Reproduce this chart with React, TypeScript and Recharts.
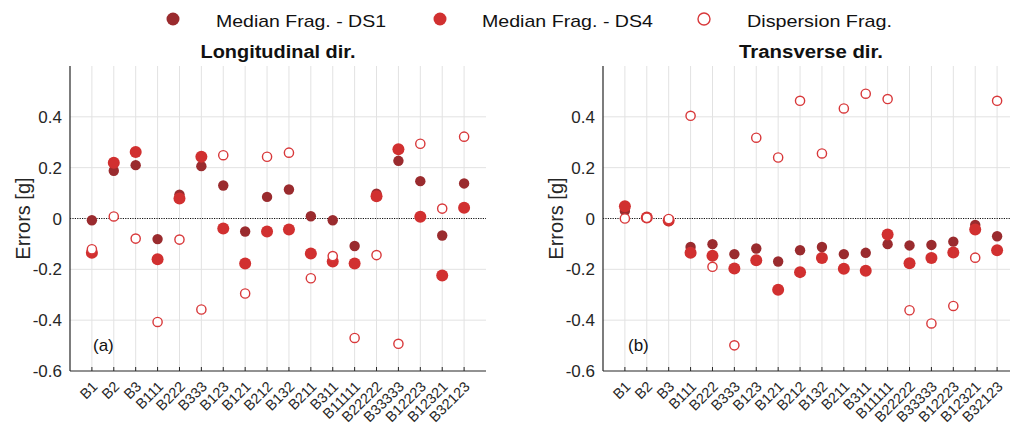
import React from 'react';
import { ScatterChart, Scatter, XAxis, YAxis, CartesianGrid, ReferenceLine } from 'recharts';

const categories = ['B1','B2','B3','B111','B222','B333','B123','B121','B212','B132','B211','B311','B11111','B22222','B33333','B12223','B12321','B32123'];

const longDS1 = [-0.007, 0.188, 0.21, -0.081, 0.094, 0.206, 0.13, -0.051, 0.085, 0.114, 0.009, -0.007, -0.108, 0.098, 0.227, 0.147, -0.067, 0.138];
const longDS4 = [-0.135, 0.219, 0.262, -0.16, 0.079, 0.243, -0.039, -0.177, -0.051, -0.043, -0.138, -0.169, -0.177, 0.088, 0.272, 0.007, -0.224, 0.042];
const longDisp = [-0.121, 0.008, -0.079, -0.407, -0.083, -0.358, 0.249, -0.295, 0.243, 0.259, -0.235, -0.148, -0.47, -0.144, -0.493, 0.294, 0.039, 0.322];

const transDS1 = [0.03, 0.005, -0.01, -0.112, -0.101, -0.14, -0.118, -0.169, -0.125, -0.112, -0.14, -0.135, -0.101, -0.106, -0.104, -0.091, -0.025, -0.07];
const transDS4 = [0.048, 0.004, -0.008, -0.135, -0.147, -0.197, -0.164, -0.28, -0.211, -0.155, -0.198, -0.206, -0.063, -0.176, -0.155, -0.134, -0.043, -0.125];
const transDisp = [0.0, 0.003, -0.002, 0.404, -0.19, -0.499, 0.318, 0.24, 0.463, 0.256, 0.433, 0.491, 0.47, -0.361, -0.413, -0.344, -0.154, 0.463];

const yTicks = [-0.6, -0.4, -0.2, 0, 0.2, 0.4];
const gridY = [-0.4, -0.2, 0.2, 0.4];

const C_DS1 = '#9a2b2e';
const C_DS4 = '#d13030';
const C_DISP = '#d8383a';
const AXIS = '#262626';
const FONT = '"Liberation Sans", Arial, Helvetica, sans-serif';

const xTicks = categories.map((_, i) => i + 1);
const toPts = (arr: number[]) => arr.map((v, i) => ({ x: i + 1, y: v }));

const Dot1 = (p: any) => <circle cx={p.cx} cy={p.cy} r={5.2} fill={C_DS1} />;
const Dot4 = (p: any) => <circle cx={p.cx} cy={p.cy} r={6} fill={C_DS4} />;
const DotO = (p: any) => <circle cx={p.cx} cy={p.cy} r={4.6} fill="#fff" stroke={C_DISP} strokeWidth={1.4} />;

const XTick = (props: any) => {
  const { x, y, payload } = props;
  const label = categories[payload.value - 1] ?? '';
  const ax = x + 3;
  const ay = y + 13;
  return (
    <g>
      <line x1={x} x2={x} y1={y} y2={y - 4} stroke={AXIS} strokeWidth={1} />
      <text x={ax} y={ay} textAnchor="end" dominantBaseline="central" fontSize={14.5} fill={AXIS} fontFamily={FONT} transform={`rotate(-45, ${ax}, ${ay})`}>
        {label}
      </text>
    </g>
  );
};

const Panel = ({ ds1, ds4, disp }: { ds1: number[]; ds4: number[]; disp: number[] }) => (
  <ScatterChart width={500} height={432} margin={{ top: 66, right: 14, bottom: 6, left: 0 }} style={{ fontFamily: FONT }}>
    <CartesianGrid stroke="#e2e2e2" strokeWidth={1} horizontalValues={gridY} verticalValues={xTicks} />
    <XAxis
      type="number"
      dataKey="x"
      domain={[0, 19]}
      ticks={xTicks}
      interval={0}
      height={55}
      tickSize={0}
      tickMargin={0}
      tickLine={false}
      axisLine={{ stroke: AXIS, strokeWidth: 1.2 }}
      tick={<XTick />}
      allowDataOverflow
    />
    <YAxis
      type="number"
      dataKey="y"
      domain={[-0.6, 0.6]}
      ticks={yTicks}
      interval={0}
      width={70}
      tickSize={0}
      tickMargin={8}
      tickLine={false}
      axisLine={{ stroke: AXIS, strokeWidth: 1.2 }}
      tick={{ fontSize: 17, fill: AXIS, fontFamily: FONT }}
      tickFormatter={(v: number) => (v === 0 ? '0' : v.toFixed(1))}
      label={{ value: 'Errors [g]', angle: -90, position: 'center', dx: -12, style: { fontSize: 20, fill: AXIS, fontFamily: FONT, textAnchor: 'middle' } }}
      allowDataOverflow
    />
    <ReferenceLine y={0} stroke="#111" strokeWidth={1} strokeDasharray="1.2 1.2" />
    <Scatter data={toPts(ds1)} fill={C_DS1} shape={Dot1} isAnimationActive={false} />
    <Scatter data={toPts(ds4)} fill={C_DS4} shape={Dot4} isAnimationActive={false} />
    <Scatter data={toPts(disp)} fill={C_DISP} shape={DotO} isAnimationActive={false} />
  </ScatterChart>
);

export default function App() {
  return (
    <div style={{ position: 'absolute', left: 0, top: 0, width: 1010, height: 432, overflow: 'hidden', background: '#fff', fontFamily: FONT }}>
      <div style={{ position: 'absolute', left: 0, top: 0 }}>
        <Panel ds1={longDS1} ds4={longDS4} disp={longDisp} />
      </div>
      <div style={{ position: 'absolute', left: 533, top: 0 }}>
        <Panel ds1={transDS1} ds4={transDS4} disp={transDisp} />
      </div>
      <svg width={1010} height={432} style={{ position: 'absolute', left: 0, top: 0, pointerEvents: 'none' }} fontFamily={FONT}>
        <circle cx={173} cy={19} r={6.5} fill={C_DS1} />
        <text x={216} y={27} fontSize={17} fill="#111" textLength={170} lengthAdjust="spacingAndGlyphs">Median Frag. - DS1</text>
        <circle cx={440} cy={19} r={6.5} fill={C_DS4} />
        <text x={482} y={27} fontSize={17} fill="#111" textLength={171} lengthAdjust="spacingAndGlyphs">Median Frag. - DS4</text>
        <circle cx={704} cy={19} r={6} fill="#fff" stroke={C_DISP} strokeWidth={1.4} />
        <text x={747} y={27} fontSize={17} fill="#111" textLength={145} lengthAdjust="spacingAndGlyphs">Dispersion Frag.</text>
        <text x={278} y={58} fontSize={18} fontWeight="bold" textAnchor="middle" fill="#111" textLength={155} lengthAdjust="spacingAndGlyphs">Longitudinal dir.</text>
        <text x={811} y={58} fontSize={18} fontWeight="bold" textAnchor="middle" fill="#111" textLength={144} lengthAdjust="spacingAndGlyphs">Transverse dir.</text>
        <text x={93} y={351} fontSize={17} fill="#111">(a)</text>
        <text x={628} y={351} fontSize={17} fill="#111">(b)</text>
      </svg>
    </div>
  );
}
